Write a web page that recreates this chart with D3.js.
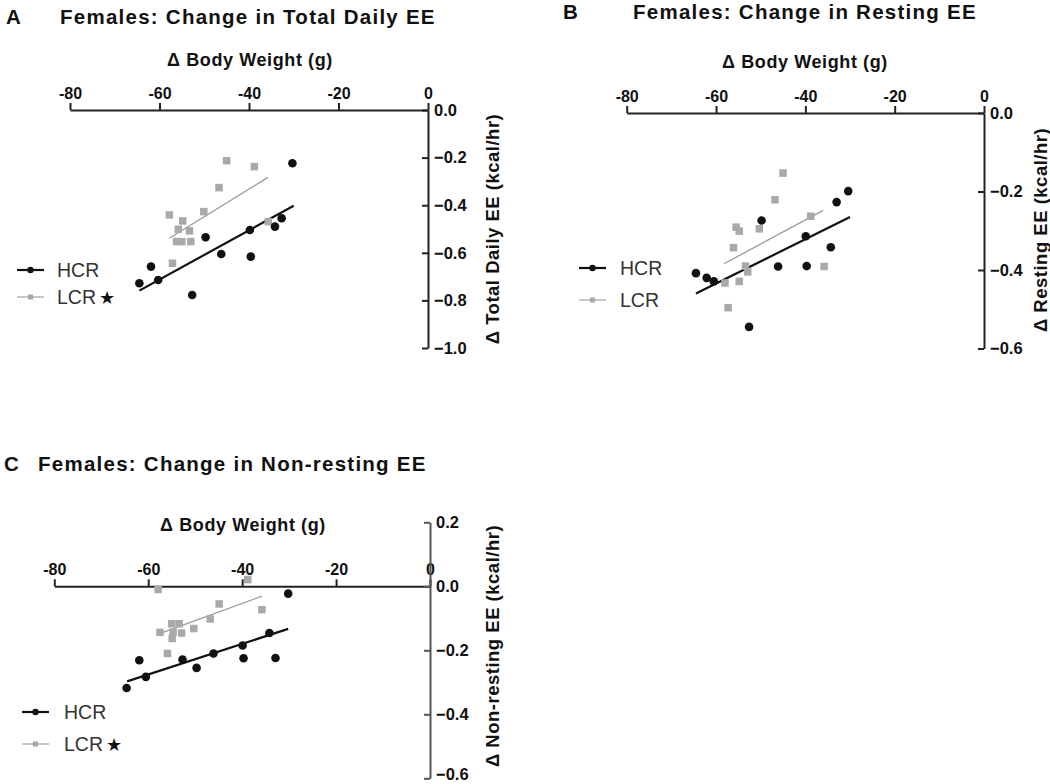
<!DOCTYPE html>
<html><head><meta charset="utf-8">
<script src="https://cdn.jsdelivr.net/npm/d3@7"></script>
<style>
body{margin:0;background:#fff;}
svg text{font-family:"Liberation Sans",Arial,sans-serif;}
</style></head>
<body><svg id="c" width="1050" height="784"></svg>
<script>
// ---------- data ----------
const xTicks = [-80, -60, -40, -20, 0];
const yTicksA = [0, -0.2, -0.4, -0.6, -0.8, -1.0];
const yTicksB = [0, -0.2, -0.4, -0.6];
const yTicksC = [0.2, 0, -0.2, -0.4, -0.6];
const seriesNames = ["HCR", "LCR"];

// Panel A: Total Daily EE
const hcrA_x = [-64.5, -61.9, -60.3, -52.7, -49.7, -46.2, -39.8, -39.6, -34.2, -32.7, -30.3];
const hcrA_y = [-0.728, -0.658, -0.714, -0.777, -0.535, -0.605, -0.504, -0.616, -0.490, -0.455, -0.224];
const lcrA_x = [-45.0, -38.8, -46.7, -50.1, -57.8, -54.8, -55.8, -53.3, -56.2, -55.0, -53.0, -57.1, -35.7];
const lcrA_y = [-0.213, -0.238, -0.326, -0.427, -0.441, -0.466, -0.501, -0.508, -0.553, -0.553, -0.553, -0.644, -0.469];
const hcrA_fit = [[-64.5, -0.759], [-30.0, -0.402]];
const lcrA_fit = [[-57.8, -0.539], [-35.8, -0.283]];

// Panel B: Resting EE
const hcrB_x = [-64.5, -62.1, -60.5, -52.6, -49.8, -46.1, -39.9, -39.7, -34.3, -33.0, -30.4];
const hcrB_y = [-0.408, -0.420, -0.429, -0.545, -0.274, -0.391, -0.314, -0.390, -0.342, -0.227, -0.199];
const lcrB_x = [-45.0, -46.8, -38.8, -55.5, -54.8, -50.3, -56.1, -53.4, -52.9, -58.0, -54.8, -57.3, -35.8];
const lcrB_y = [-0.153, -0.221, -0.263, -0.291, -0.301, -0.295, -0.343, -0.390, -0.405, -0.433, -0.429, -0.496, -0.391];
const hcrB_fit = [[-64.5, -0.460], [-30.0, -0.265]];
const lcrB_fit = [[-58.2, -0.384], [-36.0, -0.248]];

// Panel C: Non-resting EE
const hcrC_x = [-64.6, -61.9, -60.5, -52.7, -49.7, -46.1, -39.9, -39.7, -34.2, -32.9, -30.2];
const hcrC_y = [-0.318, -0.231, -0.283, -0.229, -0.255, -0.210, -0.185, -0.225, -0.146, -0.224, -0.023];
const lcrC_x = [-57.9, -38.8, -44.9, -35.8, -46.8, -50.3, -55.0, -53.4, -57.5, -54.7, -52.9, -54.9, -55.9];
const lcrC_y = [-0.010, 0.021, -0.055, -0.073, -0.102, -0.132, -0.117, -0.117, -0.144, -0.143, -0.146, -0.163, -0.210];
const hcrC_fit = [[-64.5, -0.297], [-30.2, -0.133]];
const lcrC_fit = [[-58.0, -0.150], [-35.8, -0.031]];

// ---------- drawing ----------
const svg = d3.select("#c");
const BLACK = "#111", GRAY = "#a9a9a9", GRAYLINE = "#9a9a9a";

function panel(cfg) {
  const g = svg.append("g");
  const x = d3.scaleLinear().domain([-80, 0]).range([cfg.x0, cfg.x1]);
  const y = d3.scaleLinear().domain(cfg.yDomain).range(cfg.yRange);
  const fmt = d => d === 0 ? "0.0" : d3.format(".1f")(d);

  // title
  g.append("text").attr("x", cfg.letterX).attr("y", cfg.titleY)
    .attr("font-size", 20.5).attr("font-weight", "bold").attr("fill", "#111").text(cfg.letter);
  g.append("text").attr("x", cfg.titleX).attr("y", cfg.titleY)
    .attr("font-size", 20.5).attr("font-weight", "bold").attr("letter-spacing", 1.25)
    .attr("fill", "#111").text(cfg.title);

  // x axis (ticks point up, labels above)
  const xa = g.append("g").attr("transform", `translate(0,${y(0)})`)
    .call(d3.axisTop(x).tickValues(xTicks).tickSize(7).tickSizeOuter(0).tickPadding(4)
      .tickFormat(d => d === 0 ? "0" : d));
  xa.select(".domain").attr("stroke", "#222").attr("stroke-width", 2);
  xa.selectAll(".tick line").attr("stroke", "#222").attr("stroke-width", 2);
  xa.selectAll(".tick text").attr("font-size", 16).attr("font-weight", "bold").attr("fill", "#111")
    .attr("font-family", "Liberation Sans, Arial, sans-serif");

  // y axis at x=0 (ticks point left, labels on the right)
  const ya = g.append("g").attr("transform", `translate(${x(0)},0)`)
    .call(d3.axisRight(y).tickValues(cfg.yTicks).tickSize(-6).tickSizeOuter(0).tickPadding(6)
      .tickFormat(fmt));
  ya.select(".domain").attr("stroke", cfg.yAxisColor).attr("stroke-width", 2);
  ya.selectAll(".tick line").attr("stroke", cfg.yAxisColor).attr("stroke-width", 2);
  ya.selectAll(".tick text").attr("font-size", 16.5).attr("font-weight", "bold").attr("fill", "#111")
    .attr("font-family", "Liberation Sans, Arial, sans-serif")
    .attr("dy", (d, i, n) => (cfg.yRange[0] - y(d) < 1 && cfg.yRange[0] > 770) ? "0.05em" : "0.32em");

  // axis titles
  g.append("text").attr("x", cfg.xTitleX).attr("y", cfg.xTitleY).attr("text-anchor", "middle")
    .attr("font-size", 18).attr("font-weight", "bold").attr("letter-spacing", 0.6).attr("fill", "#111")
    .text("\u0394 Body Weight (g)");
  g.append("text").attr("transform", `translate(${cfg.yTitleX},${cfg.yTitleY}) rotate(-90)`)
    .attr("text-anchor", "middle").attr("font-size", 18.5).attr("font-weight", "bold")
    .attr("letter-spacing", 0.5).attr("fill", "#111").text(cfg.yTitle);

  // fit lines
  const line = d3.line().x(d => x(d[0])).y(d => y(d[1]));
  g.append("path").attr("d", line(cfg.lcrFit)).attr("fill", "none").attr("stroke", GRAYLINE).attr("stroke-width", 1.3);
  g.append("path").attr("d", line(cfg.hcrFit)).attr("fill", "none").attr("stroke", BLACK).attr("stroke-width", 2.2);

  // LCR squares
  const s = 7.5;
  g.selectAll(null).data(d3.zip(cfg.lcrX, cfg.lcrY)).join("rect")
    .attr("x", d => x(d[0]) - s / 2).attr("y", d => y(d[1]) - s / 2)
    .attr("width", s).attr("height", s).attr("fill", GRAY);
  // HCR circles
  g.selectAll(null).data(d3.zip(cfg.hcrX, cfg.hcrY)).join("circle")
    .attr("cx", d => x(d[0])).attr("cy", d => y(d[1])).attr("r", 4.3).attr("fill", BLACK);

  // legend
  const lg = g.append("g");
  seriesNames.forEach((name, i) => {
    const ly = cfg.legY[i];
    const isH = i === 0;
    lg.append("line").attr("x1", cfg.legX0).attr("x2", cfg.legX0 + 27).attr("y1", ly).attr("y2", ly)
      .attr("stroke", isH ? BLACK : "#b5b5b5").attr("stroke-width", isH ? 2.2 : 1.5);
    if (isH) lg.append("circle").attr("cx", cfg.legX0 + 13.5).attr("cy", ly).attr("r", 3.2).attr("fill", BLACK);
    else lg.append("rect").attr("x", cfg.legX0 + 11).attr("y", ly - 2.5).attr("width", 5).attr("height", 5).attr("fill", GRAY);
    lg.append("text").attr("x", cfg.legTextX).attr("y", ly + 7).attr("font-size", 19.5).attr("fill", "#333")
      .text(name);
    if (!isH && cfg.star) {
      lg.append("text").attr("x", cfg.legTextX + 42).attr("y", ly + 7).attr("font-size", 18).attr("fill", "#111")
        .text("\u2605");
    }
  });
}

panel({
  letter: "A", letterX: 6, titleX: 60, titleY: 24, title: "Females: Change in Total Daily EE",
  x0: 70, x1: 428, yDomain: [-1, 0], yRange: [348, 110], yTicks: yTicksA, yAxisColor: "#222",
  xTitleX: 250, xTitleY: 66, yTitleX: 499, yTitleY: 229, yTitle: "\u0394 Total Daily EE (kcal/hr)",
  hcrX: hcrA_x, hcrY: hcrA_y, lcrX: lcrA_x, lcrY: lcrA_y, hcrFit: hcrA_fit, lcrFit: lcrA_fit,
  legX0: 17, legTextX: 57, legY: [270, 297], star: true
});
panel({
  letter: "B", letterX: 563, titleX: 633, titleY: 19, title: "Females: Change in Resting EE",
  x0: 626.7, x1: 984, yDomain: [-0.6, 0], yRange: [348.5, 113], yTicks: yTicksB, yAxisColor: "#222",
  xTitleX: 805, xTitleY: 68, yTitleX: 1047, yTitleY: 230, yTitle: "\u0394 Resting EE (kcal/hr)",
  hcrX: hcrB_x, hcrY: hcrB_y, lcrX: lcrB_x, lcrY: lcrB_y, hcrFit: hcrB_fit, lcrFit: lcrB_fit,
  legX0: 579, legTextX: 620, legY: [268, 300], star: false
});
panel({
  letter: "C", letterX: 4, titleX: 38, titleY: 471, title: "Females: Change in Non-resting EE",
  x0: 54.3, x1: 430, yDomain: [-0.6, 0.2], yRange: [778.3, 522.3], yTicks: yTicksC, yAxisColor: "#555",
  xTitleX: 243, xTitleY: 531, yTitleX: 499, yTitleY: 646, yTitle: "\u0394 Non-resting EE (kcal/hr)",
  hcrX: hcrC_x, hcrY: hcrC_y, lcrX: lcrC_x, lcrY: lcrC_y, hcrFit: hcrC_fit, lcrFit: lcrC_fit,
  legX0: 22, legTextX: 64, legY: [712, 744], star: true
});
</script></body></html>
